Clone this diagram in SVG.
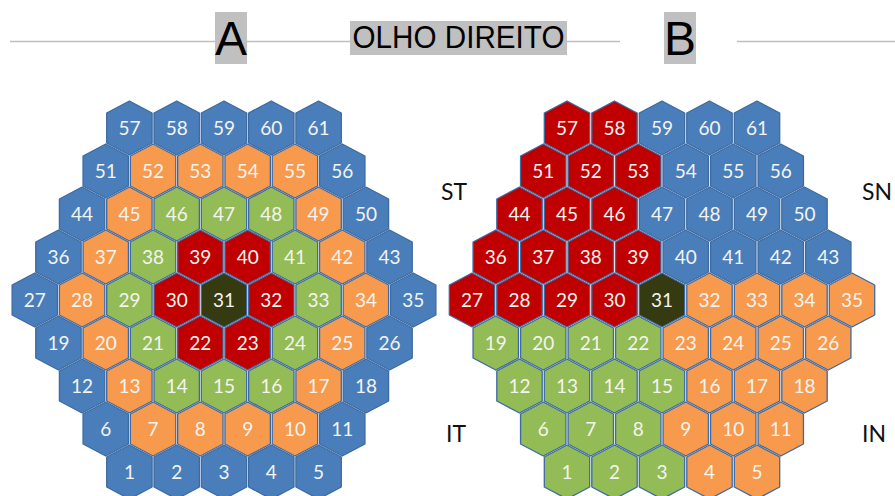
<svg xmlns="http://www.w3.org/2000/svg" width="895" height="496" viewBox="0 0 895 496">
<style>
.h{stroke:#3d6aa2;stroke-width:1.3;stroke-linejoin:round}
.b{fill:#4a7ebb}.o{fill:#f79a4d}.g{fill:#93bb56}.r{fill:#c00000}.d{fill:#353a10}
.n{font-family:Lato,"Open Sans",sans-serif;font-size:19px;fill:#f4f4f0;text-anchor:middle}
.lab{font-family:Lato,"Open Sans",sans-serif;font-size:23px;fill:#111}
.big{font-family:"Liberation Sans",Arial,sans-serif;fill:#000;text-anchor:middle}
</style>
<defs><polygon id="hx" points="0,-27 22.7,-15 22.7,15 0,27 -22.7,15 -22.7,-15"/></defs>
<g id="header">
<line x1="10" y1="41.5" x2="620" y2="41.5" stroke="#bfbfbf" stroke-width="1.3"/>
<line x1="737" y1="41.5" x2="895" y2="41.5" stroke="#bfbfbf" stroke-width="1.3"/>
<rect x="215" y="12" width="32" height="52" fill="#c0c0c0"/>
<text class="big" x="231" y="55" font-size="48">A</text>
<rect x="350" y="21" width="217" height="34" fill="#c0c0c0"/>
<text class="big" x="458.5" y="48.3" font-size="31" textLength="212" lengthAdjust="spacingAndGlyphs">OLHO DIREITO</text>
<rect x="664" y="12" width="32" height="52" fill="#c0c0c0"/>
<text class="big" x="680" y="55" font-size="48">B</text>
</g>
<g id="labels">
<text class="lab" x="441" y="200">ST</text>
<text class="lab" x="862" y="200">SN</text>
<text class="lab" x="446" y="442">IT</text>
<text class="lab" x="862" y="442">IN</text>
</g>
<g id="gridA">
<g id="a57" transform="translate(129.4,128)"><use href="#hx" class="h b"/><text class="n" y="7">57</text></g>
<g id="a58" transform="translate(176.7,128)"><use href="#hx" class="h b"/><text class="n" y="7">58</text></g>
<g id="a59" transform="translate(224,128)"><use href="#hx" class="h b"/><text class="n" y="7">59</text></g>
<g id="a60" transform="translate(271.3,128)"><use href="#hx" class="h b"/><text class="n" y="7">60</text></g>
<g id="a61" transform="translate(318.6,128)"><use href="#hx" class="h b"/><text class="n" y="7">61</text></g>
<g id="a51" transform="translate(105.75,171)"><use href="#hx" class="h b"/><text class="n" y="7">51</text></g>
<g id="a52" transform="translate(153.05,171)"><use href="#hx" class="h o"/><text class="n" y="7">52</text></g>
<g id="a53" transform="translate(200.35,171)"><use href="#hx" class="h o"/><text class="n" y="7">53</text></g>
<g id="a54" transform="translate(247.65,171)"><use href="#hx" class="h o"/><text class="n" y="7">54</text></g>
<g id="a55" transform="translate(294.95,171)"><use href="#hx" class="h o"/><text class="n" y="7">55</text></g>
<g id="a56" transform="translate(342.25,171)"><use href="#hx" class="h b"/><text class="n" y="7">56</text></g>
<g id="a44" transform="translate(82.1,214)"><use href="#hx" class="h b"/><text class="n" y="7">44</text></g>
<g id="a45" transform="translate(129.4,214)"><use href="#hx" class="h o"/><text class="n" y="7">45</text></g>
<g id="a46" transform="translate(176.7,214)"><use href="#hx" class="h g"/><text class="n" y="7">46</text></g>
<g id="a47" transform="translate(224,214)"><use href="#hx" class="h g"/><text class="n" y="7">47</text></g>
<g id="a48" transform="translate(271.3,214)"><use href="#hx" class="h g"/><text class="n" y="7">48</text></g>
<g id="a49" transform="translate(318.6,214)"><use href="#hx" class="h o"/><text class="n" y="7">49</text></g>
<g id="a50" transform="translate(365.9,214)"><use href="#hx" class="h b"/><text class="n" y="7">50</text></g>
<g id="a36" transform="translate(58.45,257)"><use href="#hx" class="h b"/><text class="n" y="7">36</text></g>
<g id="a37" transform="translate(105.75,257)"><use href="#hx" class="h o"/><text class="n" y="7">37</text></g>
<g id="a38" transform="translate(153.05,257)"><use href="#hx" class="h g"/><text class="n" y="7">38</text></g>
<g id="a39" transform="translate(200.35,257)"><use href="#hx" class="h r"/><text class="n" y="7">39</text></g>
<g id="a40" transform="translate(247.65,257)"><use href="#hx" class="h r"/><text class="n" y="7">40</text></g>
<g id="a41" transform="translate(294.95,257)"><use href="#hx" class="h g"/><text class="n" y="7">41</text></g>
<g id="a42" transform="translate(342.25,257)"><use href="#hx" class="h o"/><text class="n" y="7">42</text></g>
<g id="a43" transform="translate(389.55,257)"><use href="#hx" class="h b"/><text class="n" y="7">43</text></g>
<g id="a27" transform="translate(34.8,300)"><use href="#hx" class="h b"/><text class="n" y="7">27</text></g>
<g id="a28" transform="translate(82.1,300)"><use href="#hx" class="h o"/><text class="n" y="7">28</text></g>
<g id="a29" transform="translate(129.4,300)"><use href="#hx" class="h g"/><text class="n" y="7">29</text></g>
<g id="a30" transform="translate(176.7,300)"><use href="#hx" class="h r"/><text class="n" y="7">30</text></g>
<g id="a31" transform="translate(224,300)"><use href="#hx" class="h d"/><text class="n" y="7">31</text></g>
<g id="a32" transform="translate(271.3,300)"><use href="#hx" class="h r"/><text class="n" y="7">32</text></g>
<g id="a33" transform="translate(318.6,300)"><use href="#hx" class="h g"/><text class="n" y="7">33</text></g>
<g id="a34" transform="translate(365.9,300)"><use href="#hx" class="h o"/><text class="n" y="7">34</text></g>
<g id="a35" transform="translate(413.2,300)"><use href="#hx" class="h b"/><text class="n" y="7">35</text></g>
<g id="a19" transform="translate(58.45,343)"><use href="#hx" class="h b"/><text class="n" y="7">19</text></g>
<g id="a20" transform="translate(105.75,343)"><use href="#hx" class="h o"/><text class="n" y="7">20</text></g>
<g id="a21" transform="translate(153.05,343)"><use href="#hx" class="h g"/><text class="n" y="7">21</text></g>
<g id="a22" transform="translate(200.35,343)"><use href="#hx" class="h r"/><text class="n" y="7">22</text></g>
<g id="a23" transform="translate(247.65,343)"><use href="#hx" class="h r"/><text class="n" y="7">23</text></g>
<g id="a24" transform="translate(294.95,343)"><use href="#hx" class="h g"/><text class="n" y="7">24</text></g>
<g id="a25" transform="translate(342.25,343)"><use href="#hx" class="h o"/><text class="n" y="7">25</text></g>
<g id="a26" transform="translate(389.55,343)"><use href="#hx" class="h b"/><text class="n" y="7">26</text></g>
<g id="a12" transform="translate(82.1,386)"><use href="#hx" class="h b"/><text class="n" y="7">12</text></g>
<g id="a13" transform="translate(129.4,386)"><use href="#hx" class="h o"/><text class="n" y="7">13</text></g>
<g id="a14" transform="translate(176.7,386)"><use href="#hx" class="h g"/><text class="n" y="7">14</text></g>
<g id="a15" transform="translate(224,386)"><use href="#hx" class="h g"/><text class="n" y="7">15</text></g>
<g id="a16" transform="translate(271.3,386)"><use href="#hx" class="h g"/><text class="n" y="7">16</text></g>
<g id="a17" transform="translate(318.6,386)"><use href="#hx" class="h o"/><text class="n" y="7">17</text></g>
<g id="a18" transform="translate(365.9,386)"><use href="#hx" class="h b"/><text class="n" y="7">18</text></g>
<g id="a6" transform="translate(105.75,429)"><use href="#hx" class="h b"/><text class="n" y="7">6</text></g>
<g id="a7" transform="translate(153.05,429)"><use href="#hx" class="h o"/><text class="n" y="7">7</text></g>
<g id="a8" transform="translate(200.35,429)"><use href="#hx" class="h o"/><text class="n" y="7">8</text></g>
<g id="a9" transform="translate(247.65,429)"><use href="#hx" class="h o"/><text class="n" y="7">9</text></g>
<g id="a10" transform="translate(294.95,429)"><use href="#hx" class="h o"/><text class="n" y="7">10</text></g>
<g id="a11" transform="translate(342.25,429)"><use href="#hx" class="h b"/><text class="n" y="7">11</text></g>
<g id="a1" transform="translate(129.4,472)"><use href="#hx" class="h b"/><text class="n" y="7">1</text></g>
<g id="a2" transform="translate(176.7,472)"><use href="#hx" class="h b"/><text class="n" y="7">2</text></g>
<g id="a3" transform="translate(224,472)"><use href="#hx" class="h b"/><text class="n" y="7">3</text></g>
<g id="a4" transform="translate(271.3,472)"><use href="#hx" class="h b"/><text class="n" y="7">4</text></g>
<g id="a5" transform="translate(318.6,472)"><use href="#hx" class="h b"/><text class="n" y="7">5</text></g>
</g>
<g id="gridB">
<g id="b57" transform="translate(567,128)"><use href="#hx" class="h r"/><text class="n" y="7">57</text></g>
<g id="b58" transform="translate(614.5,128)"><use href="#hx" class="h r"/><text class="n" y="7">58</text></g>
<g id="b59" transform="translate(662,128)"><use href="#hx" class="h b"/><text class="n" y="7">59</text></g>
<g id="b60" transform="translate(709.5,128)"><use href="#hx" class="h b"/><text class="n" y="7">60</text></g>
<g id="b61" transform="translate(757,128)"><use href="#hx" class="h b"/><text class="n" y="7">61</text></g>
<g id="b51" transform="translate(543.25,171)"><use href="#hx" class="h r"/><text class="n" y="7">51</text></g>
<g id="b52" transform="translate(590.75,171)"><use href="#hx" class="h r"/><text class="n" y="7">52</text></g>
<g id="b53" transform="translate(638.25,171)"><use href="#hx" class="h r"/><text class="n" y="7">53</text></g>
<g id="b54" transform="translate(685.75,171)"><use href="#hx" class="h b"/><text class="n" y="7">54</text></g>
<g id="b55" transform="translate(733.25,171)"><use href="#hx" class="h b"/><text class="n" y="7">55</text></g>
<g id="b56" transform="translate(780.75,171)"><use href="#hx" class="h b"/><text class="n" y="7">56</text></g>
<g id="b44" transform="translate(519.5,214)"><use href="#hx" class="h r"/><text class="n" y="7">44</text></g>
<g id="b45" transform="translate(567,214)"><use href="#hx" class="h r"/><text class="n" y="7">45</text></g>
<g id="b46" transform="translate(614.5,214)"><use href="#hx" class="h r"/><text class="n" y="7">46</text></g>
<g id="b47" transform="translate(662,214)"><use href="#hx" class="h b"/><text class="n" y="7">47</text></g>
<g id="b48" transform="translate(709.5,214)"><use href="#hx" class="h b"/><text class="n" y="7">48</text></g>
<g id="b49" transform="translate(757,214)"><use href="#hx" class="h b"/><text class="n" y="7">49</text></g>
<g id="b50" transform="translate(804.5,214)"><use href="#hx" class="h b"/><text class="n" y="7">50</text></g>
<g id="b36" transform="translate(495.75,257)"><use href="#hx" class="h r"/><text class="n" y="7">36</text></g>
<g id="b37" transform="translate(543.25,257)"><use href="#hx" class="h r"/><text class="n" y="7">37</text></g>
<g id="b38" transform="translate(590.75,257)"><use href="#hx" class="h r"/><text class="n" y="7">38</text></g>
<g id="b39" transform="translate(638.25,257)"><use href="#hx" class="h r"/><text class="n" y="7">39</text></g>
<g id="b40" transform="translate(685.75,257)"><use href="#hx" class="h b"/><text class="n" y="7">40</text></g>
<g id="b41" transform="translate(733.25,257)"><use href="#hx" class="h b"/><text class="n" y="7">41</text></g>
<g id="b42" transform="translate(780.75,257)"><use href="#hx" class="h b"/><text class="n" y="7">42</text></g>
<g id="b43" transform="translate(828.25,257)"><use href="#hx" class="h b"/><text class="n" y="7">43</text></g>
<g id="b27" transform="translate(472,300)"><use href="#hx" class="h r"/><text class="n" y="7">27</text></g>
<g id="b28" transform="translate(519.5,300)"><use href="#hx" class="h r"/><text class="n" y="7">28</text></g>
<g id="b29" transform="translate(567,300)"><use href="#hx" class="h r"/><text class="n" y="7">29</text></g>
<g id="b30" transform="translate(614.5,300)"><use href="#hx" class="h r"/><text class="n" y="7">30</text></g>
<g id="b31" transform="translate(662,300)"><use href="#hx" class="h d"/><text class="n" y="7">31</text></g>
<g id="b32" transform="translate(709.5,300)"><use href="#hx" class="h o"/><text class="n" y="7">32</text></g>
<g id="b33" transform="translate(757,300)"><use href="#hx" class="h o"/><text class="n" y="7">33</text></g>
<g id="b34" transform="translate(804.5,300)"><use href="#hx" class="h o"/><text class="n" y="7">34</text></g>
<g id="b35" transform="translate(852,300)"><use href="#hx" class="h o"/><text class="n" y="7">35</text></g>
<g id="b19" transform="translate(495.75,343)"><use href="#hx" class="h g"/><text class="n" y="7">19</text></g>
<g id="b20" transform="translate(543.25,343)"><use href="#hx" class="h g"/><text class="n" y="7">20</text></g>
<g id="b21" transform="translate(590.75,343)"><use href="#hx" class="h g"/><text class="n" y="7">21</text></g>
<g id="b22" transform="translate(638.25,343)"><use href="#hx" class="h g"/><text class="n" y="7">22</text></g>
<g id="b23" transform="translate(685.75,343)"><use href="#hx" class="h o"/><text class="n" y="7">23</text></g>
<g id="b24" transform="translate(733.25,343)"><use href="#hx" class="h o"/><text class="n" y="7">24</text></g>
<g id="b25" transform="translate(780.75,343)"><use href="#hx" class="h o"/><text class="n" y="7">25</text></g>
<g id="b26" transform="translate(828.25,343)"><use href="#hx" class="h o"/><text class="n" y="7">26</text></g>
<g id="b12" transform="translate(519.5,386)"><use href="#hx" class="h g"/><text class="n" y="7">12</text></g>
<g id="b13" transform="translate(567,386)"><use href="#hx" class="h g"/><text class="n" y="7">13</text></g>
<g id="b14" transform="translate(614.5,386)"><use href="#hx" class="h g"/><text class="n" y="7">14</text></g>
<g id="b15" transform="translate(662,386)"><use href="#hx" class="h g"/><text class="n" y="7">15</text></g>
<g id="b16" transform="translate(709.5,386)"><use href="#hx" class="h o"/><text class="n" y="7">16</text></g>
<g id="b17" transform="translate(757,386)"><use href="#hx" class="h o"/><text class="n" y="7">17</text></g>
<g id="b18" transform="translate(804.5,386)"><use href="#hx" class="h o"/><text class="n" y="7">18</text></g>
<g id="b6" transform="translate(543.25,429)"><use href="#hx" class="h g"/><text class="n" y="7">6</text></g>
<g id="b7" transform="translate(590.75,429)"><use href="#hx" class="h g"/><text class="n" y="7">7</text></g>
<g id="b8" transform="translate(638.25,429)"><use href="#hx" class="h g"/><text class="n" y="7">8</text></g>
<g id="b9" transform="translate(685.75,429)"><use href="#hx" class="h o"/><text class="n" y="7">9</text></g>
<g id="b10" transform="translate(733.25,429)"><use href="#hx" class="h o"/><text class="n" y="7">10</text></g>
<g id="b11" transform="translate(780.75,429)"><use href="#hx" class="h o"/><text class="n" y="7">11</text></g>
<g id="b1" transform="translate(567,472)"><use href="#hx" class="h g"/><text class="n" y="7">1</text></g>
<g id="b2" transform="translate(614.5,472)"><use href="#hx" class="h g"/><text class="n" y="7">2</text></g>
<g id="b3" transform="translate(662,472)"><use href="#hx" class="h g"/><text class="n" y="7">3</text></g>
<g id="b4" transform="translate(709.5,472)"><use href="#hx" class="h o"/><text class="n" y="7">4</text></g>
<g id="b5" transform="translate(757,472)"><use href="#hx" class="h o"/><text class="n" y="7">5</text></g>
</g>
<g id="connectors"/>
</svg>
